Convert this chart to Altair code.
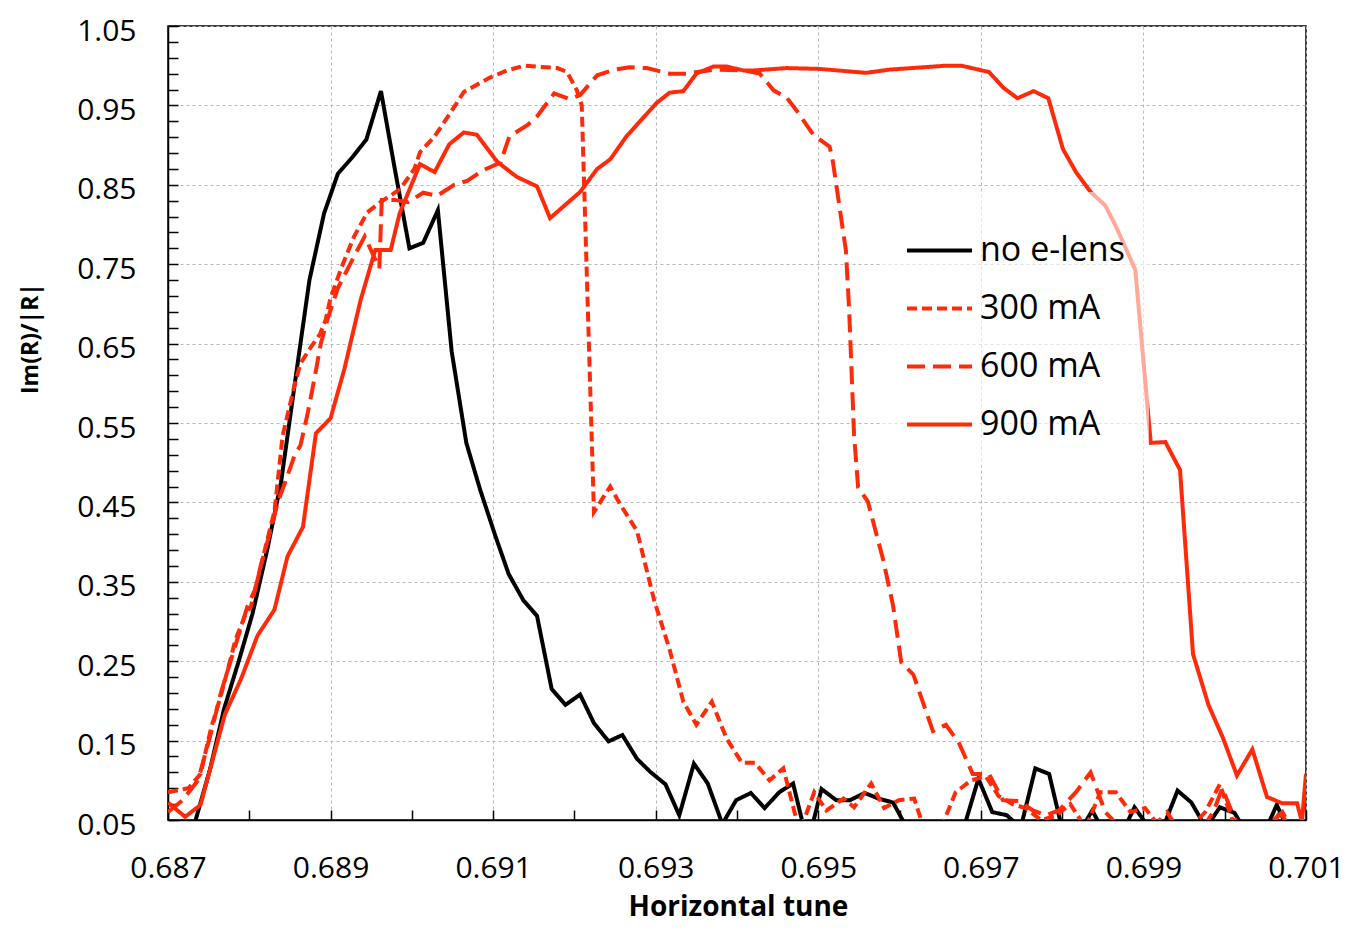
import altair as alt
import pandas as pd

SERIES = ["no e-lens", "300 mA", "600 mA", "900 mA"]

tune_none = [0.68734, 0.68752, 0.68769, 0.68787, 0.68804, 0.68822, 0.68839, 0.68857, 0.68874, 0.68892,
             0.68909, 0.68927, 0.68944, 0.68962, 0.68979, 0.68997, 0.69014, 0.69032, 0.69049, 0.69067,
             0.69084, 0.69102, 0.69119, 0.69137, 0.69154, 0.69172, 0.69189, 0.69207, 0.69224, 0.69242,
             0.69259, 0.69277, 0.69294, 0.69312, 0.69329, 0.69347, 0.69364, 0.69382, 0.69399, 0.69417,
             0.69434, 0.69452, 0.69469, 0.69487, 0.69504, 0.69522, 0.69539, 0.69557, 0.69574, 0.69592,
             0.69609, 0.69627, 0.69644, 0.69662, 0.69679, 0.69697, 0.69714, 0.69732, 0.69749, 0.69767,
             0.69784, 0.69802, 0.69819, 0.69837, 0.69854, 0.69872, 0.69889, 0.69907, 0.69924, 0.69942,
             0.69959, 0.69977, 0.69994, 0.70012, 0.70029, 0.70047, 0.70064, 0.70082, 0.70099]
val_none = [0.05, 0.115, 0.19, 0.25, 0.31, 0.39, 0.475, 0.607, 0.73, 0.814,
            0.864, 0.885, 0.907, 0.968, 0.87, 0.77, 0.777, 0.818, 0.64, 0.525,
            0.466, 0.41, 0.36, 0.327, 0.307, 0.215, 0.195, 0.208, 0.172, 0.149,
            0.157, 0.127, 0.11, 0.095, 0.056, 0.121, 0.096, 0.045, 0.075, 0.084,
            0.065, 0.085, 0.096, 0.02, 0.089, 0.075, 0.075, 0.084, 0.077, 0.072,
            0.04, 0.02, 0.02, 0.03, 0.04, 0.102, 0.06, 0.056, 0.04, 0.115,
            0.108, 0.03, 0.03, 0.062, 0.03, 0.03, 0.066, 0.04, 0.04, 0.087,
            0.072, 0.04, 0.066, 0.059, 0.03, 0.03, 0.069, 0.03, 0.03]

tune_300 = [0.68700, 0.68725, 0.68740, 0.68753, 0.68764, 0.68776, 0.68783, 0.68795, 0.68802, 0.68810,
            0.68820, 0.68831, 0.68841, 0.68856, 0.68863, 0.68876, 0.68887, 0.68894, 0.68900, 0.68915,
            0.68929, 0.68945, 0.68961, 0.68976, 0.68986, 0.69003, 0.69010, 0.69028, 0.69047, 0.69064,
            0.69096, 0.69117, 0.69138, 0.69179, 0.69191, 0.69203, 0.69209, 0.69224, 0.69244, 0.69256,
            0.69277, 0.69298, 0.69317, 0.69334, 0.69350, 0.69369, 0.69387, 0.69406, 0.69422, 0.69440,
            0.69457, 0.69477, 0.69495, 0.69510, 0.69531, 0.69544, 0.69565, 0.69581, 0.69599, 0.69618,
            0.69633, 0.69651, 0.69669, 0.69688, 0.69706, 0.69722, 0.69739, 0.69755, 0.69774, 0.69792,
            0.69810, 0.69829, 0.69847, 0.69866, 0.69884, 0.69902, 0.69921, 0.69939, 0.69958, 0.69976,
            0.69994, 0.70013, 0.70031, 0.70050, 0.70068, 0.70087, 0.70100]
val_300 = [0.085, 0.09, 0.108, 0.166, 0.203, 0.249, 0.277, 0.308, 0.319, 0.352,
           0.394, 0.439, 0.534, 0.599, 0.625, 0.646, 0.662, 0.68, 0.708, 0.75,
           0.785, 0.815, 0.828, 0.838, 0.845, 0.87, 0.891, 0.911, 0.94, 0.967,
           0.985, 0.994, 1.0, 0.997, 0.992, 0.969, 0.95, 0.438, 0.47, 0.448,
           0.414, 0.327, 0.265, 0.199, 0.17, 0.199, 0.153, 0.122, 0.122, 0.1,
           0.115, 0.035, 0.085, 0.062, 0.077, 0.066, 0.096, 0.065, 0.075, 0.077,
           0.03, 0.04, 0.085, 0.1, 0.105, 0.08, 0.07, 0.065, 0.05, 0.055,
           0.07, 0.04, 0.085, 0.085, 0.06, 0.065, 0.04, 0.03, 0.04, 0.06,
           0.095, 0.04, 0.03, 0.03, 0.06, 0.03, 0.04]

tune_600 = [0.68700, 0.68718, 0.68737, 0.68753, 0.68765, 0.68777, 0.68786, 0.68798, 0.68807, 0.68814,
            0.68825, 0.68835, 0.68844, 0.68856, 0.68863, 0.68872, 0.68880, 0.68888, 0.68896, 0.68909,
            0.68929, 0.68942, 0.68960, 0.68963, 0.68979, 0.68995, 0.69014, 0.69031, 0.69052, 0.69068,
            0.69087, 0.69109, 0.69120, 0.69142, 0.69154, 0.69175, 0.69194, 0.69207, 0.69228, 0.69249,
            0.69268, 0.69289, 0.69317, 0.69338, 0.69371, 0.69408, 0.69428, 0.69445, 0.69461, 0.69473,
            0.69494, 0.69514, 0.69518, 0.69534, 0.69538, 0.69544, 0.69549, 0.69561, 0.69580, 0.69592,
            0.69602, 0.69617, 0.69641, 0.69657, 0.69673, 0.69690, 0.69710, 0.69727, 0.69747, 0.69764,
            0.69780, 0.69796, 0.69817, 0.69835, 0.69853, 0.69872, 0.69890, 0.69911, 0.69929, 0.69948,
            0.69966, 0.69986, 0.69997, 0.70013, 0.70031, 0.70050, 0.70071, 0.70087, 0.70100]
val_600 = [0.06, 0.075, 0.1, 0.16, 0.21, 0.25, 0.28, 0.32, 0.34, 0.37,
           0.41, 0.45, 0.475, 0.51, 0.522, 0.563, 0.605, 0.65, 0.68, 0.72,
           0.76, 0.785, 0.745, 0.831, 0.831, 0.828, 0.84, 0.836, 0.85, 0.855,
           0.868, 0.878, 0.911, 0.925, 0.936, 0.965, 0.958, 0.963, 0.988, 0.995,
           0.998, 0.997, 0.99, 0.99, 0.995, 0.994, 0.99, 0.969, 0.96, 0.944,
           0.913, 0.898, 0.879, 0.767, 0.692, 0.535, 0.469, 0.451, 0.377, 0.32,
           0.249, 0.233, 0.162, 0.17, 0.147, 0.108, 0.108, 0.075, 0.074, 0.062,
           0.056, 0.062, 0.085, 0.11, 0.06, 0.04, 0.03, 0.04, 0.06, 0.03,
           0.03, 0.06, 0.09, 0.05, 0.03, 0.04, 0.06, 0.03, 0.04]

tune_900 = [0.68700, 0.68721, 0.68740, 0.68770, 0.68790, 0.68810, 0.68831, 0.68847, 0.68866, 0.68882,
            0.68900, 0.68917, 0.68937, 0.68955, 0.68974, 0.68985, 0.69010, 0.69028, 0.69046, 0.69064,
            0.69080, 0.69105, 0.69129, 0.69154, 0.69170, 0.69207, 0.69228, 0.69244, 0.69264, 0.69301,
            0.69317, 0.69334, 0.69350, 0.69371, 0.69387, 0.69408, 0.69420, 0.69461, 0.69501, 0.69559,
            0.69587, 0.69657, 0.69676, 0.69710, 0.69728, 0.69745, 0.69765, 0.69783, 0.69801, 0.69817,
            0.69835, 0.69853, 0.69866, 0.69890, 0.69909, 0.69927, 0.69945, 0.69961, 0.69980, 0.69998,
            0.70015, 0.70034, 0.70052, 0.70071, 0.70089, 0.70095, 0.70100]
val_900 = [0.072, 0.054, 0.069, 0.183, 0.228, 0.282, 0.315, 0.382, 0.419, 0.537,
           0.556, 0.618, 0.705, 0.768, 0.768, 0.814, 0.876, 0.866, 0.901, 0.916,
           0.913, 0.879, 0.86, 0.848, 0.808, 0.841, 0.87, 0.882, 0.911, 0.953,
           0.966, 0.968, 0.99, 0.999, 0.999, 0.994, 0.994, 0.997, 0.996, 0.991,
           0.995, 1.0, 1.0, 0.992, 0.972, 0.959, 0.968, 0.959, 0.895, 0.866,
           0.841, 0.824, 0.798, 0.743, 0.525, 0.526, 0.491, 0.259, 0.195, 0.153,
           0.106, 0.139, 0.079, 0.071, 0.071, 0.048, 0.108]

x_ticks = [0.687, 0.688, 0.689, 0.690, 0.691, 0.692, 0.693, 0.694, 0.695, 0.696,
           0.697, 0.698, 0.699, 0.700, 0.701]
y_ticks = [round(0.05 + 0.02 * i, 2) for i in range(51)]

RED = "#ff2a0a"

rows = []
for name, ts, vs in [(SERIES[0], tune_none, val_none), (SERIES[1], tune_300, val_300),
                     (SERIES[2], tune_600, val_600), (SERIES[3], tune_900, val_900)]:
    for t, v in zip(ts, vs):
        rows.append({"series": name, "tune": t, "ratio": v})
df = pd.DataFrame(rows)

FONT = "Open Sans"

x_major = "round(datum.value*1000) % 2 == 1"
y_major = "abs(round(datum.value*100) % 10 - 5) < 0.5"

legend_kw = dict(title=None, orient="none", legendX=713, legendY=166,
                 symbolType="stroke", symbolSize=4225, symbolStrokeWidth=4,
                 labelFontSize=34, labelFont=FONT, labelColor="#000000",
                 labelOffset=6, rowPadding=6, padding=24,
                 fillColor="rgba(255,255,255,0.6)", labelLimit=300)

chart = alt.Chart(df).mark_line(clip=True, strokeWidth=4, strokeJoin="miter").encode(
    x=alt.X("tune:Q",
            scale=alt.Scale(domain=[0.687, 0.701], nice=False, zero=False),
            axis=alt.Axis(values=x_ticks,
                          labelExpr=f"{x_major} ? format(datum.value, '.3f') : ''",
                          title="Horizontal tune", titleFontSize=28,
                          titleX=570, titleY=87, titleBaseline="middle",
                          tickSize={"expr": "-10"}, labelPadding=43,
                          gridOpacity={"condition": {"test": x_major, "value": 1}, "value": 0})),
    y=alt.Y("ratio:Q",
            scale=alt.Scale(domain=[0.05, 1.05], nice=False, zero=False),
            axis=alt.Axis(values=y_ticks,
                          labelExpr=f"{y_major} ? format(datum.value, '.2f') : ''",
                          title="Im(R)/|R|", titleFontSize=23,
                          titleX=-138, titleY=312, titleAngle=270, titleBaseline="middle",
                          tickSize={"expr": "-10"}, labelPadding=42, labelOffset=5,
                          gridOpacity={"condition": {"test": y_major, "value": 1}, "value": 0})),
    color=alt.Color("series:N",
                    scale=alt.Scale(domain=SERIES, range=["#000000", RED, RED, RED]),
                    legend=alt.Legend(**legend_kw)),
    strokeDash=alt.StrokeDash("series:N",
                              scale=alt.Scale(domain=SERIES, range=[[1, 0], [10, 5], [18, 8], [1, 0]]),
                              legend=alt.Legend(**legend_kw)),
).properties(
    width=1138, height=794,
    autosize=alt.AutoSizeParams(type="none"),
    padding={"left": 160, "top": 18, "right": 42, "bottom": 106},
).configure_view(
    stroke="#000000", strokeWidth=1.5
).configure_axis(
    labelFont=FONT, labelFontSize=30, labelColor="#000000",
    titleFont=FONT, titleFontWeight="bold", titleColor="#000000",
    domainColor="#000000", domainWidth=1.5,
    tickColor="#000000", tickWidth=1.5,
    gridColor="#b8b8b8", gridDash=[3, 3], gridWidth=1,
    grid=True, labelFlush=False, labelOverlap=False,
)

chart.save("out.html", embed_options={"renderer": "svg", "actions": False})
